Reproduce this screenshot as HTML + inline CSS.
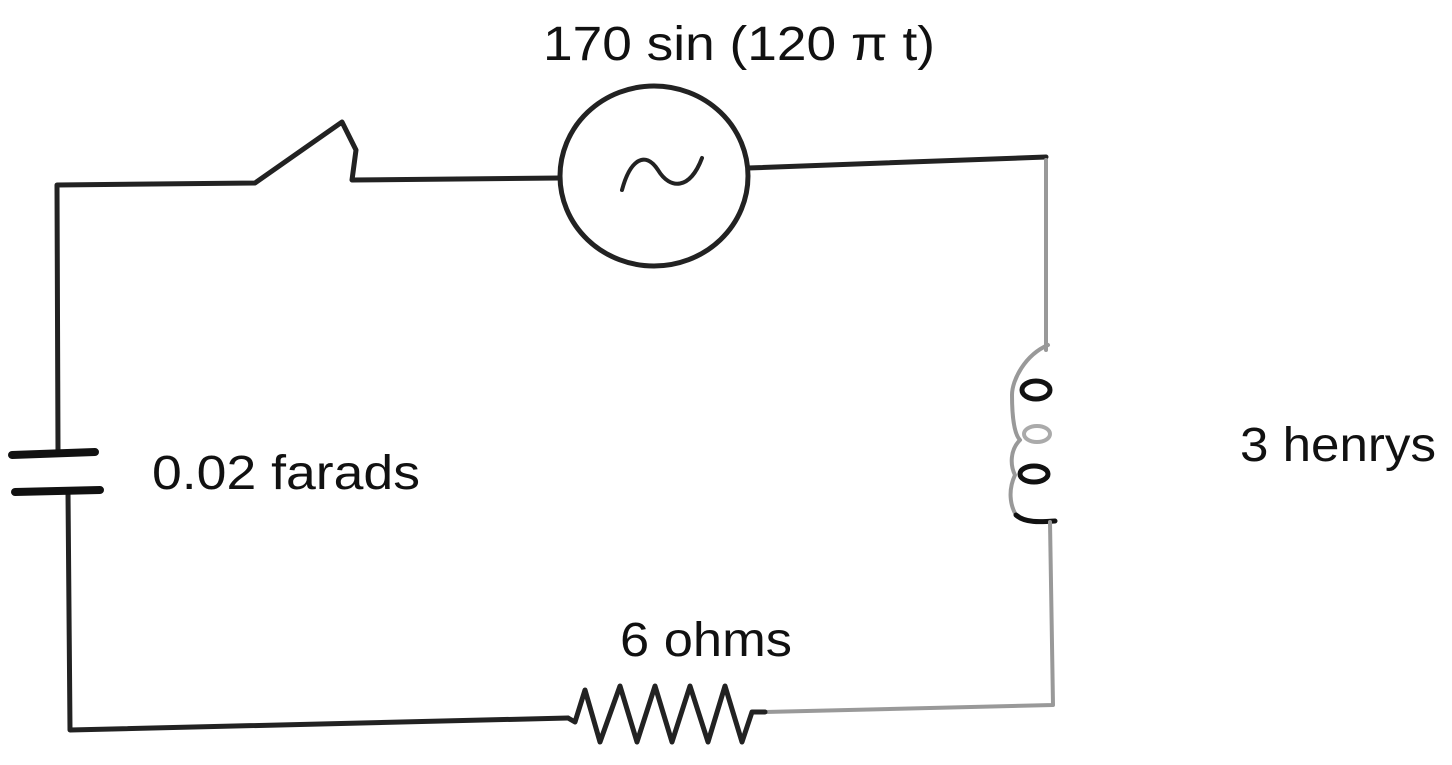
<!DOCTYPE html>
<html><head><style>
html,body{margin:0;padding:0;background:#fff;width:1452px;height:765px;overflow:hidden}
svg{display:block}
text{font-family:"Liberation Sans",sans-serif;fill:#111}
</style></head><body>
<svg width="1452" height="765" viewBox="0 0 1452 765">
<g fill="none" stroke-linecap="round" stroke-linejoin="round">
<path d="M58 450 L57 185 L255 183 L342 122 L356 150 L352 180 L560 178" stroke="#222" stroke-width="5"/>
<ellipse cx="654" cy="176" rx="94" ry="90" stroke="#222" stroke-width="5"/>
<path d="M622 190 C630 160 645 150 658 170 C670 190 690 190 702 158" stroke="#222" stroke-width="4"/>
<path d="M748 168 L1046 157" stroke="#222" stroke-width="5"/>
<path d="M1046 160 L1046 350" stroke="#999" stroke-width="4"/>
<path d="M1048 345 C1025 355 1012 380 1012 395 C1012 420 1015 435 1020 440 C1010 450 1010 465 1015 475 C1008 490 1010 505 1016 515" stroke="#999" stroke-width="4"/>
<ellipse cx="1036" cy="390" rx="14" ry="9" stroke="#111" stroke-width="5"/>
<ellipse cx="1037" cy="434" rx="13" ry="8" stroke="#aaa" stroke-width="4"/>
<ellipse cx="1034" cy="474" rx="14" ry="8" stroke="#111" stroke-width="5"/>
<path d="M1016 515 C1025 523 1040 522 1055 521" stroke="#111" stroke-width="5"/>
<path d="M1050 522 L1053 705 L765 712" stroke="#999" stroke-width="4"/>
<path d="M765 712 L752 712 L742 742 L725 686 L708 742 L690 686 L672 742 L655 686 L637 742 L620 686 L600 742 L585 690 L575 722 L568 718" stroke="#222" stroke-width="5"/>
<path d="M568 718 L70 730 L68 492" stroke="#222" stroke-width="5"/>
<path d="M12 455 L95 452" stroke="#111" stroke-width="8"/>
<path d="M15 492 L100 490" stroke="#111" stroke-width="8"/>
</g>
<text x="543" y="60" font-size="48" textLength="392" lengthAdjust="spacingAndGlyphs">170 sin (120 π t)</text>
<text x="152" y="489" font-size="48" textLength="268" lengthAdjust="spacingAndGlyphs">0.02 farads</text>
<text x="1240" y="461" font-size="48" textLength="196" lengthAdjust="spacingAndGlyphs">3 henrys</text>
<text x="620" y="656" font-size="48" textLength="172" lengthAdjust="spacingAndGlyphs">6 ohms</text>
</svg>
</body></html>
